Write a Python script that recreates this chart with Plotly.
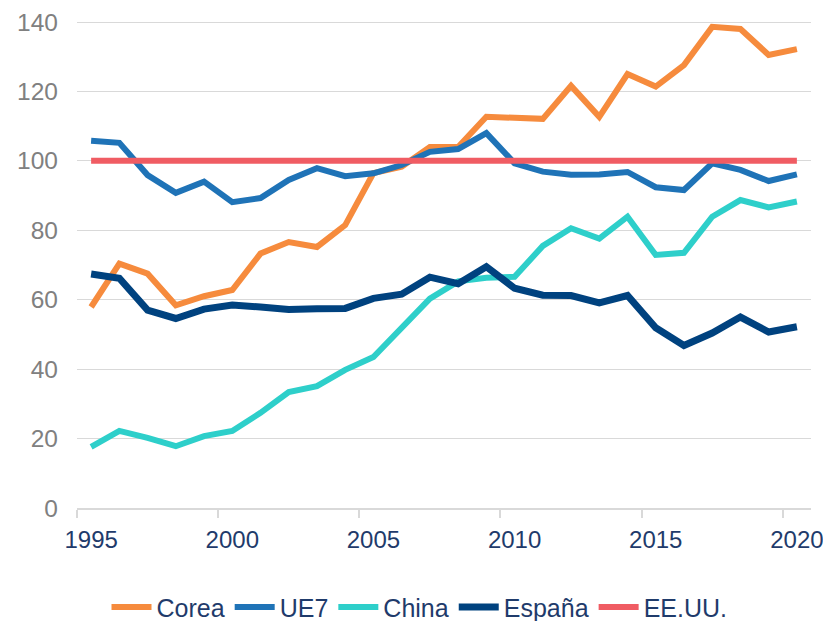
import plotly.graph_objects as go

years = list(range(1995, 2021))
tick_years = [1995, 2000, 2005, 2010, 2015, 2020]
tick_labels = [str(y) for y in tick_years]

corea = [57.9, 70.4, 67.5, 58.4, 61.0, 62.8, 73.3, 76.6, 75.2, 81.5, 96.5, 98.3, 104.0, 104.0,
         112.7, 112.2, 112.1, 121.6, 112.7, 125.0, 121.4, 127.6, 138.6, 138.0, 130.5, 132.2]
ue7 = [105.8, 105.2, 95.9, 90.8, 94.0, 88.1, 89.3, 94.5, 97.9, 95.6, 96.4, 98.8, 102.6, 103.4,
       108.0, 99.3, 96.9, 96.0, 96.1, 96.8, 92.4, 91.6, 99.3, 97.4, 94.2, 96.1]
china = [17.6, 22.2, 20.2, 17.8, 20.7, 22.2, 27.4, 33.4, 35.1, 39.8, 43.5, 52.2, 60.3, 65.3,
         66.3, 66.6, 75.5, 80.6, 77.6, 83.9, 72.9, 73.5, 83.9, 88.7, 86.6, 88.3]
espana = [67.4, 66.2, 57.0, 54.6, 57.3, 58.5, 57.9, 57.2, 57.4, 57.5, 60.4, 61.6, 66.5, 64.6,
          69.5, 63.3, 61.3, 61.2, 59.1, 61.2, 51.9, 46.8, 50.4, 55.0, 50.7, 52.2]
eeuu = [100.0] * 26

series = [
    ("Corea", corea, "#F68B3D", 6),
    ("UE7", ue7, "#1F73B7", 6),
    ("China", china, "#2ECFCA", 6),
    ("España", espana, "#00427F", 7),
    ("EE.UU.", eeuu, "#F05C63", 6),
]

fig = go.Figure()
for name, vals, color, w in series:
    fig.add_trace(go.Scatter(
        x=years, y=vals, name=name, mode="lines",
        line=dict(color=color, width=w),
    ))

# category-style axis: labels at the year centres, tick marks on year boundaries
boundary_ticks = [y - 0.5 for y in tick_years]

# page body has an 8px margin, so the figure is sized/offset to compensate
fig.update_layout(
    width=823, height=613,
    margin=dict(l=69, r=20, t=13, b=113, autoexpand=False),
    paper_bgcolor="white", plot_bgcolor="white",
    font=dict(family="Liberation Sans, Arial, sans-serif", size=25, color="#1F3B6B"),
    showlegend=True,
    legend=dict(
        orientation="h", xref="container", yref="paper",
        x=0.5, xanchor="center", y=-0.204, yanchor="middle",
        font=dict(size=25, color="#1F3B6B"), itemwidth=40,
        traceorder="normal",
    ),
    xaxis=dict(
        range=[years[0] - 0.5, years[-1] + 0.5],
        tickmode="array", tickvals=tick_years, ticktext=tick_labels,
        showgrid=False, showline=True, linecolor="#D9D9D9", linewidth=1.5,
        ticks="outside", ticklen=8, tickcolor="rgba(0,0,0,0)",
        tickfont=dict(size=24, color="#1F3B6B"),
        minor=dict(tickmode="array", tickvals=boundary_ticks, ticks="outside",
                   ticklen=8, tickcolor="#D9D9D9", tickwidth=1.5, showgrid=False),
        zeroline=False, automargin=False, ticklabelstandoff=1,
        ticklabeloverflow="allow",
    ),
    yaxis=dict(
        range=[0, 140.29], tickmode="array", tickvals=[0, 20, 40, 60, 80, 100, 120, 140],
        showgrid=True, gridcolor="#D9D9D9", gridwidth=1.2,
        showline=False, zeroline=False, ticks="",
        tickfont=dict(size=24.5, color="#808080"),
        ticklabelstandoff=18, automargin=False,
        ticklabeloverflow="allow",
    ),
)

fig.write_html("out.html")
